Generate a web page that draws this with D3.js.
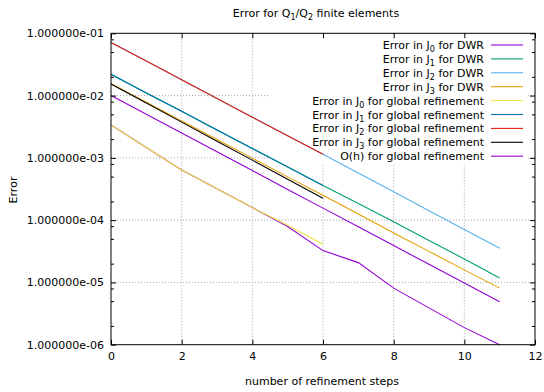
<!DOCTYPE html>
<html lang="en">
<head>
    <meta charset="UTF-8">
    <title>Error for Q1/Q2 finite elements</title>
    <script src="https://d3js.org/d3.v7.min.js"></script>
    <style>
        body { margin: 0; background: #fff; }
        text { font-family: "DejaVu Sans", sans-serif; font-size: 11px; fill: #000; }
    </style>
</head>
<body>
    <div id="chart"></div>
    <script>
        // Data
        const stepsDwr = [0, 1, 2, 3, 4, 5, 6, 7, 8, 9, 10, 11];
        const stepsGlobal = [0, 1, 2, 3, 4, 5, 6];

        const j0Dwr = [3.37e-3, 1.47e-3, 6.4e-4, 3.2e-4, 1.6e-4, 7.9e-5, 3.24e-5, 2.08e-5, 8.1e-6, 3.9e-6, 1.88e-6, 1.0e-6];
        const j1Dwr = [2.2e-2, 1.1e-2, 5.6e-3, 2.8e-3, 1.41e-3, 7.2e-4, 3.6e-4, 1.85e-4, 9.4e-5, 4.7e-5, 2.38e-5, 1.18e-5];
        const j2Dwr = [7.1e-2, 3.6e-2, 1.8e-2, 9.0e-3, 4.5e-3, 2.27e-3, 1.14e-3, 5.7e-4, 2.85e-4, 1.42e-4, 7.1e-5, 3.55e-5];
        const j3Dwr = [1.55e-2, 7.8e-3, 3.9e-3, 1.97e-3, 9.9e-4, 4.95e-4, 2.5e-4, 1.25e-4, 6.2e-5, 3.15e-5, 1.59e-5, 8.1e-6];
        const j0Global = [3.37e-3, 1.47e-3, 6.4e-4, 3.2e-4, 1.6e-4, 8.3e-5, 4.1e-5];
        const j1Global = [2.2e-2, 1.1e-2, 5.6e-3, 2.8e-3, 1.41e-3, 7.1e-4, 3.6e-4];
        const j2Global = [7.1e-2, 3.6e-2, 1.8e-2, 9.0e-3, 4.5e-3, 2.27e-3, 1.14e-3];
        const j3Global = [1.53e-2, 7.6e-3, 3.75e-3, 1.85e-3, 9.2e-4, 4.55e-4, 2.25e-4];
        const ohGlobal = [1.0e-2, 5.0e-3, 2.5e-3, 1.25e-3, 6.25e-4, 3.1e-4, 1.56e-4, 7.8e-5, 3.9e-5, 1.95e-5, 9.8e-6, 4.9e-6];

        const xTicks = [0, 2, 4, 6, 8, 10, 12];
        const yTicks = [1e-6, 1e-5, 1e-4, 1e-3, 1e-2, 1e-1];
        const yMinorMantissas = [2, 5, 8];

        // label pieces: [before subscript, subscript, after subscript]
        const series = [
            {label: ["Error in J", "0", " for DWR"], x: stepsDwr, y: j0Dwr, color: "#9400d3"},
            {label: ["Error in J", "1", " for DWR"], x: stepsDwr, y: j1Dwr, color: "#009e73"},
            {label: ["Error in J", "2", " for DWR"], x: stepsDwr, y: j2Dwr, color: "#56b4e9"},
            {label: ["Error in J", "3", " for DWR"], x: stepsDwr, y: j3Dwr, color: "#e69f00"},
            {label: ["Error in J", "0", " for global refinement"], x: stepsGlobal, y: j0Global, color: "#f0e442"},
            {label: ["Error in J", "1", " for global refinement"], x: stepsGlobal, y: j1Global, color: "#0072b2"},
            {label: ["Error in J", "2", " for global refinement"], x: stepsGlobal, y: j2Global, color: "#e51e10"},
            {label: ["Error in J", "3", " for global refinement"], x: stepsGlobal, y: j3Global, color: "#000000"},
            {label: ["O(h) for global refinement", "", ""], x: stepsDwr, y: ohGlobal, color: "#9400d3"}
        ];

        // Plot area
        const W = 544, H = 392;
        const plotLeft = 111, plotRight = 535, plotTop = 33.3, plotBottom = 344.7;

        const x = d3.scaleLinear().domain([0, 12]).range([plotLeft, plotRight]);
        const y = d3.scaleLog().domain([1e-6, 1e-1]).range([plotBottom, plotTop]);

        const svg = d3.select("#chart").append("svg")
            .attr("width", W)
            .attr("height", H);

        // Grid (dotted)
        const grid = svg.append("g")
            .attr("stroke", "#a8a8a8")
            .attr("stroke-width", 1)
            .attr("stroke-dasharray", "1,2");
        xTicks.slice(1, -1).forEach(t => {
            grid.append("line")
                .attr("x1", x(t)).attr("x2", x(t))
                .attr("y1", plotTop).attr("y2", plotBottom);
        });
        yTicks.slice(1, -1).forEach(t => {
            grid.append("line")
                .attr("x1", plotLeft).attr("x2", plotRight)
                .attr("y1", y(t)).attr("y2", y(t));
        });

        // Key background hides the grid behind it
        svg.append("rect")
            .attr("x", 270).attr("y", 36)
            .attr("width", 258).attr("height", 127)
            .attr("fill", "#fff");

        // Series lines
        const line = d3.line()
            .x(d => x(d[0]))
            .y(d => y(d[1]));

        series.forEach(s => {
            svg.append("path")
                .datum(s.x.map((v, i) => [v, s.y[i]]))
                .attr("d", line)
                .attr("fill", "none")
                .attr("stroke", s.color)
                .attr("stroke-width", 1.1);
        });

        // y tick format like gnuplot: 1.000000e-01
        const fmtY = v => {
            const e = Math.round(Math.log10(v));
            const sign = e < 0 ? "-" : "+";
            return "1.000000e" + sign + String(Math.abs(e)).padStart(2, "0");
        };

        // Minor ticks on the log axis
        const minorY = [];
        yTicks.slice(0, -1).forEach(t => yMinorMantissas.forEach(m => minorY.push(t * m)));

        // Axes with inward ticks, mirrored on top and right
        svg.append("g")
            .attr("transform", `translate(0,${plotBottom})`)
            .call(d3.axisBottom(x).tickValues(xTicks).tickSize(-5).tickPadding(8).tickFormat(d3.format("d")));
        svg.append("g")
            .attr("transform", `translate(0,${plotTop})`)
            .call(d3.axisTop(x).tickValues(xTicks).tickSize(-5).tickFormat(""));
        svg.append("g")
            .attr("transform", `translate(${plotLeft},0)`)
            .call(d3.axisLeft(y).tickValues(yTicks).tickSize(-5).tickPadding(7).tickFormat(fmtY));
        svg.append("g")
            .attr("transform", `translate(${plotRight},0)`)
            .call(d3.axisRight(y).tickValues(yTicks).tickSize(-5).tickFormat(""));
        svg.append("g")
            .attr("transform", `translate(${plotLeft},0)`)
            .call(d3.axisLeft(y).tickValues(minorY).tickSize(-3).tickFormat(""));
        svg.append("g")
            .attr("transform", `translate(${plotRight},0)`)
            .call(d3.axisRight(y).tickValues(minorY).tickSize(-3).tickFormat(""));

        svg.selectAll(".domain").remove();
        svg.selectAll(".tick line").attr("stroke", "#000");
        svg.selectAll(".tick text")
            .attr("font-family", "DejaVu Sans, sans-serif")
            .attr("font-size", 11);

        // Border
        svg.append("rect")
            .attr("x", plotLeft).attr("y", plotTop)
            .attr("width", plotRight - plotLeft).attr("height", plotBottom - plotTop)
            .attr("fill", "none")
            .attr("stroke", "#000")
            .attr("stroke-width", 1);

        // Title with subscripts
        const title = svg.append("text")
            .attr("x", 316).attr("y", 17)
            .attr("text-anchor", "middle");
        title.append("tspan").text("Error for Q");
        title.append("tspan").attr("dy", 3).attr("font-size", 8).text("1");
        title.append("tspan").attr("dy", -3).text("/Q");
        title.append("tspan").attr("dy", 3).attr("font-size", 8).text("2");
        title.append("tspan").attr("dy", -3).text(" finite elements");

        // Axis labels
        svg.append("text")
            .attr("x", 322).attr("y", 385)
            .attr("text-anchor", "middle")
            .text("number of refinement steps");
        svg.append("text")
            .attr("transform", "translate(17,190) rotate(-90)")
            .attr("text-anchor", "middle")
            .text("Error");

        // Key
        const keyTextX = 484, keyY0 = 45, keyDy = 13.9;
        series.forEach((s, i) => {
            const yy = keyY0 + i * keyDy;
            const t = svg.append("text")
                .attr("x", keyTextX).attr("y", yy + 4)
                .attr("text-anchor", "end");
            t.append("tspan").text(s.label[0]);
            if (s.label[1]) {
                t.append("tspan").attr("dy", 3).attr("font-size", 8).text(s.label[1]);
                t.append("tspan").attr("dy", -3).text(s.label[2]);
            }
            svg.append("line")
                .attr("x1", 491).attr("x2", 523)
                .attr("y1", yy).attr("y2", yy)
                .attr("stroke", s.color)
                .attr("stroke-width", 1.1);
        });
    </script>
</body>
</html>
